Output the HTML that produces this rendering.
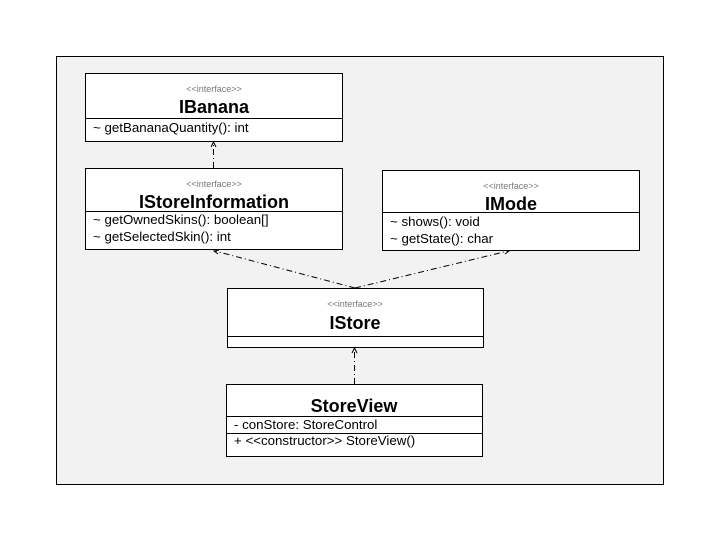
<!DOCTYPE html>
<html><head><meta charset="utf-8"><style>
html,body{margin:0;padding:0;background:#fff;}
svg{display:block;font-family:"Liberation Sans","DejaVu Sans",sans-serif;}
.st{font-size:9px;fill:#777;text-anchor:middle}
.t{font-size:18px;font-weight:bold;fill:#000;text-anchor:middle}
.m{font-size:13.3px;fill:#000}
.b{fill:#fff;stroke:#000;stroke-width:1}
.c{stroke:#000;stroke-width:1;fill:none;stroke-dasharray:6,3,1,3}
</style></head><body>
<svg width="720" height="540" viewBox="0 0 720 540">
<rect x="56.5" y="56.5" width="607" height="428" fill="#f2f2f2" stroke="#000"/>
<path class="c" d="M213.5 168 L213.5 143"/>
<path d="M211 147 L213.5 142 L216 147" fill="none" stroke="#000"/>
<path class="c" d="M355 288 L215 251"/>
<path d="M219 250 L214 251 L218 254" fill="none" stroke="#000"/>
<path class="c" d="M355 288 L508 251"/>
<path d="M503 250 L509 251 L505 254" fill="none" stroke="#000"/>
<path class="c" d="M354.5 384 L354.5 349"/>
<path d="M352 353 L354.5 348 L357 353" fill="none" stroke="#000"/>
<rect class="b" x="85.5" y="73.5" width="257" height="68"/>
<line x1="85.5" y1="118.5" x2="342.5" y2="118.5" stroke="#000"/>
<text class="st" x="214" y="92">&lt;&lt;interface&gt;&gt;</text>
<text class="t" x="214" y="113">IBanana</text>
<text class="m" x="93" y="132">~ getBananaQuantity(): int</text>
<rect class="b" x="85.5" y="168.5" width="257" height="81"/>
<line x1="85.5" y1="211.5" x2="342.5" y2="211.5" stroke="#000"/>
<text class="st" x="214" y="187">&lt;&lt;interface&gt;&gt;</text>
<text class="t" x="214" y="208">IStoreInformation</text>
<text class="m" x="93" y="224">~ getOwnedSkins(): boolean[]</text>
<text class="m" x="93" y="241">~ getSelectedSkin(): int</text>
<rect class="b" x="382.5" y="170.5" width="257" height="80"/>
<line x1="382.5" y1="212.5" x2="639.5" y2="212.5" stroke="#000"/>
<text class="st" x="511" y="189">&lt;&lt;interface&gt;&gt;</text>
<text class="t" x="511" y="210">IMode</text>
<text class="m" x="390" y="226">~ shows(): void</text>
<text class="m" x="390" y="243">~ getState(): char</text>
<rect class="b" x="227.5" y="288.5" width="256" height="59"/>
<line x1="227.5" y1="336.5" x2="483.5" y2="336.5" stroke="#000"/>
<text class="st" x="355" y="307">&lt;&lt;interface&gt;&gt;</text>
<text class="t" x="355" y="329">IStore</text>
<rect class="b" x="226.5" y="384.5" width="256" height="72"/>
<line x1="226.5" y1="416.5" x2="482.5" y2="416.5" stroke="#000"/>
<line x1="226.5" y1="433.5" x2="482.5" y2="433.5" stroke="#000"/>
<text class="t" x="354" y="412">StoreView</text>
<text class="m" x="234" y="429">- conStore: StoreControl</text>
<text class="m" x="234" y="445">+ &lt;&lt;constructor&gt;&gt; StoreView()</text>
</svg>
</body></html>
